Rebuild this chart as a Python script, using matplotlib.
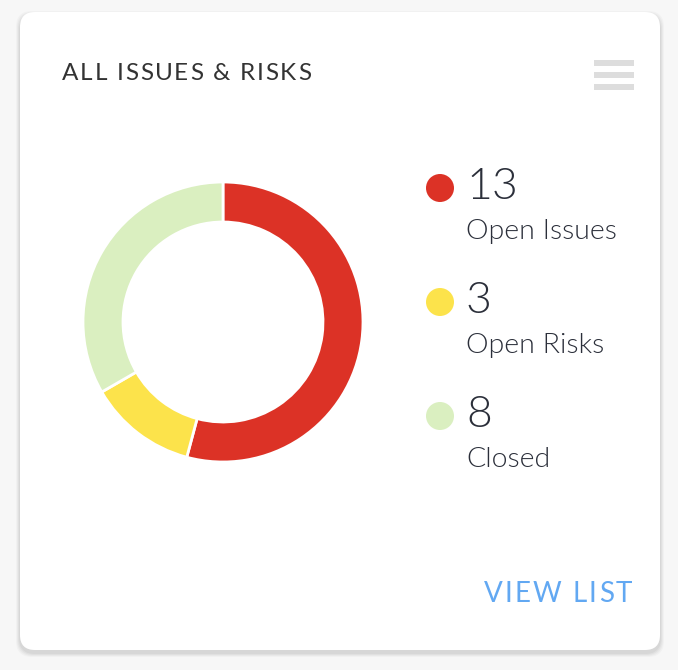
import matplotlib
matplotlib.use("Agg")
import matplotlib.pyplot as plt
from matplotlib.patches import FancyBboxPatch, Circle, Rectangle

# ---- data ----
categories = ["Open Issues", "Open Risks", "Closed"]
values = [13, 3, 8]
colors = ["#dc3226", "#fce34b", "#daefc0"]
title = "ALL ISSUES & RISKS"
link_text = "VIEW LIST"

W, H = 678, 670
fig = plt.figure(figsize=(W / 100, H / 100), dpi=100)
fig.patch.set_facecolor("#f7f7f7")

bg = fig.add_axes([0, 0, 1, 1])
bg.set_xlim(0, W)
bg.set_ylim(H, 0)
bg.axis("off")

# card shadow
for i, a in enumerate([0.025, 0.03, 0.035, 0.04]):
    grow = 4 - i
    bg.add_patch(FancyBboxPatch((20 - grow, 12 - grow + 3), 640 + 2 * grow, 638 + 2 * grow,
                                boxstyle="round,pad=0,rounding_size=16",
                                facecolor="black", edgecolor="none", alpha=a, zorder=1))
bg.add_patch(FancyBboxPatch((20, 12), 640, 638, boxstyle="round,pad=0,rounding_size=15",
                            facecolor="white", edgecolor="none", zorder=2))

renderer = fig.canvas.get_renderer()


def text_width(s, **kw):
    t = bg.text(0, 0, s, **kw)
    w = t.get_window_extent(renderer=renderer).width
    t.remove()
    return w


def spaced_text(x, y, s, target_width, **kw):
    ref = text_width("x", **kw)
    natural = text_width(s, **kw)
    spacing = (target_width - natural) / (len(s) - 1)
    for i, ch in enumerate(s):
        if ch == " ":
            continue
        off = text_width(s[:i] + "x", **kw) - ref if i > 0 else 0
        bg.text(x + off + i * spacing, y, ch, va="baseline", ha="left", zorder=5, **kw)


spaced_text(62, 80, title, 249, fontsize=17.5, family="Lato", color="#333333")
spaced_text(484, 602, link_text, 148, fontsize=20, family="Lato", color="#62a8f2")

# hamburger icon
for yy in [60, 72, 84]:
    bg.add_patch(Rectangle((594, yy), 40, 6, facecolor="#dddddd", edgecolor="none", zorder=5))

# legend
dot_y = [188, 302, 416]
for cat, v, c, yy in zip(categories, values, colors, dot_y):
    bg.add_patch(Circle((440, yy), 14, facecolor=c, edgecolor="none", zorder=5))
    bg.text(466, yy + 11, str(v), fontsize=32, family="Lato", fontweight=300,
            color="#2b2f3a", va="baseline", ha="left", zorder=5)
    bg.text(466, yy + 51, cat, fontsize=20.5, family="Lato", fontweight=300,
            color="#2b2f3a", va="baseline", ha="left", zorder=5)

# donut
cx, cy, R = 223, 322, 140
pax = fig.add_axes([(cx - 150) / W, (H - cy - 150) / H, 300 / W, 300 / H])
pax.set_xlim(-150, 150)
pax.set_ylim(-150, 150)
pax.set_aspect("equal")
pax.axis("off")
pax.pie(values, colors=colors, radius=R, startangle=90, counterclock=False,
        wedgeprops=dict(width=40, edgecolor="white", linewidth=2))
pax.set_xlim(-150, 150)
pax.set_ylim(-150, 150)

fig.savefig("out.png", dpi=100, facecolor=fig.get_facecolor())
